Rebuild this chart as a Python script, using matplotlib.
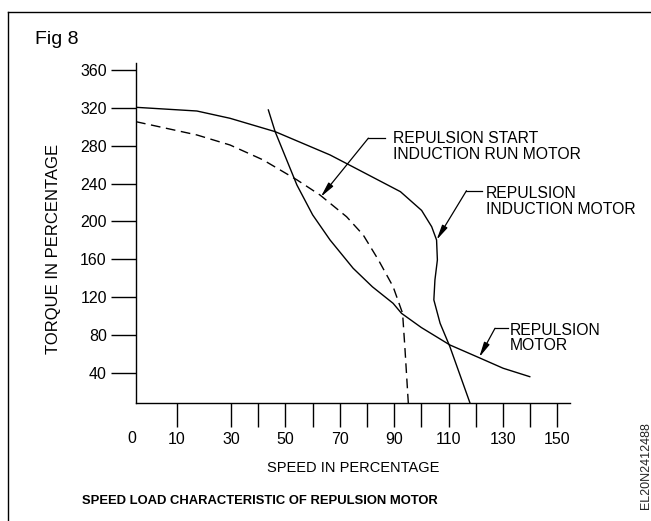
import matplotlib
matplotlib.use('Agg')
import matplotlib.pyplot as plt
from matplotlib.lines import Line2D

plt.rcParams['font.family'] = ['Liberation Sans', 'DejaVu Sans']

# repulsion induction motor (solid, top curve)
ind_x = [-5, 17.4, 29.6, 46.2, 66.4, 74.9, 92.3, 100.1, 103.8, 105.6, 105.9, 105.0, 104.6, 106.9, 110.5, 117.9]
ind_y = [320.6, 316.7, 309, 294.9, 270.3, 257.6, 231.5, 211.7, 194.5, 180.5, 159.4, 138.3, 117.2, 92.5, 67.8, 8.3]

# repulsion start induction run motor (dashed)
rs_x = [-5, 17.4, 29.6, 41.8, 54.2, 62.7, 72.5, 78.6, 84.2, 89.6, 93.1, 94.0, 95.2]
rs_y = [305.4, 291.4, 280.8, 265, 244, 228, 205, 185.8, 159.4, 131.2, 103, 64.3, 8.3]

# repulsion motor
rep_x = [43.7, 46.2, 54.2, 60.0, 66.4, 74.9, 82.0, 89.6, 92.7, 100.0, 110.5, 120.9, 130.1, 139.9]
rep_y = [317.8, 294.9, 238.6, 207.0, 180.5, 150.6, 131.0, 113.6, 103, 88.0, 69.6, 56.6, 45, 36.1]

yticks = [40, 80, 120, 160, 200, 240, 280, 320, 360]
xticks_major = [10, 30, 50, 70, 90, 110, 130, 150]
xticks_minor = [40, 60, 80, 100, 120, 140]

fig = plt.figure(figsize=(6.51, 5.21), dpi=100)
ax = fig.add_axes([136/651, 1-403/521, 434/651, 340/521])

ax.plot(ind_x, ind_y, color='black', lw=1.0)
ax.plot(rs_x, rs_y, color='black', lw=1.0, dashes=(7, 4))
ax.plot(rep_x, rep_y, color='black', lw=1.0)

ax.set_xlim(-5, 154.7)
ax.set_ylim(8.3, 367.4)

for s in ['top', 'right']:
    ax.spines[s].set_visible(False)
for s in ['left', 'bottom']:
    ax.spines[s].set_linewidth(1.0)

ax.set_yticks(yticks)
ax.tick_params(axis='y', direction='out', length=18, width=1.0, pad=3, labelsize=11.5)
ax.set_xticks(xticks_major)
ax.set_xticks(xticks_minor, minor=True)
ax.tick_params(axis='x', which='both', direction='out', length=17, width=1.0, pad=4, labelsize=11.5)
# the "0" label sits at the start of the axis, without a tick
ax.text(-6.4, 8.3 - 36/0.9469, '0', ha='center', va='center', fontsize=11.5)

ax.set_xlabel('SPEED IN PERCENTAGE', fontsize=10.5, labelpad=10)
ax.set_ylabel('TORQUE IN PERCENTAGE', fontsize=12)
ax.yaxis.set_label_coords(-0.172, 0.453)

# leader annotations
def leader(tx, ty, cx0, cx1, cy, px, py, label):
    ax.plot([cx0, cx1], [cy, cy], color='black', lw=0.9)
    ax.annotate('', xy=(px, py), xytext=(cx0, cy),
                arrowprops=dict(arrowstyle='-|>,head_length=0.9,head_width=0.18',
                                color='black', lw=0.9, shrinkA=0, shrinkB=0))
    ax.text(tx, ty, label, fontsize=11.3, ha='left', va='center', linespacing=1.05)

leader(89.6, 279, 80.5, 86.6, 288, 63, 226, 'REPULSION START\nINDUCTION RUN MOTOR')
leader(123.7, 221, 116.6, 122.2, 232.5, 105.6, 180.5, 'REPULSION\nINDUCTION MOTOR')
leader(132.6, 77, 127.1, 132.0, 87.2, 121.3, 56.6, 'REPULSION\nMOTOR')

fig.text(35/651, 1-40/521, 'Fig 8', fontsize=14, ha='left', va='center')
fig.text(260/651, 1-501/521, 'SPEED LOAD CHARACTERISTIC OF REPULSION MOTOR',
         fontsize=9.4, fontweight='bold', ha='center', va='center')
fig.text(646/651, 1-422/521, 'EL20N2412488', fontsize=9, rotation=90,
         ha='center', va='top', color='#222222')

# page frame
fig.add_artist(Line2D([8/651, 1], [1-12/521, 1-12/521], color='black', lw=1.0))
fig.add_artist(Line2D([8/651, 8/651], [0, 1-12/521], color='black', lw=1.0))

fig.savefig('out.png', dpi=100)
